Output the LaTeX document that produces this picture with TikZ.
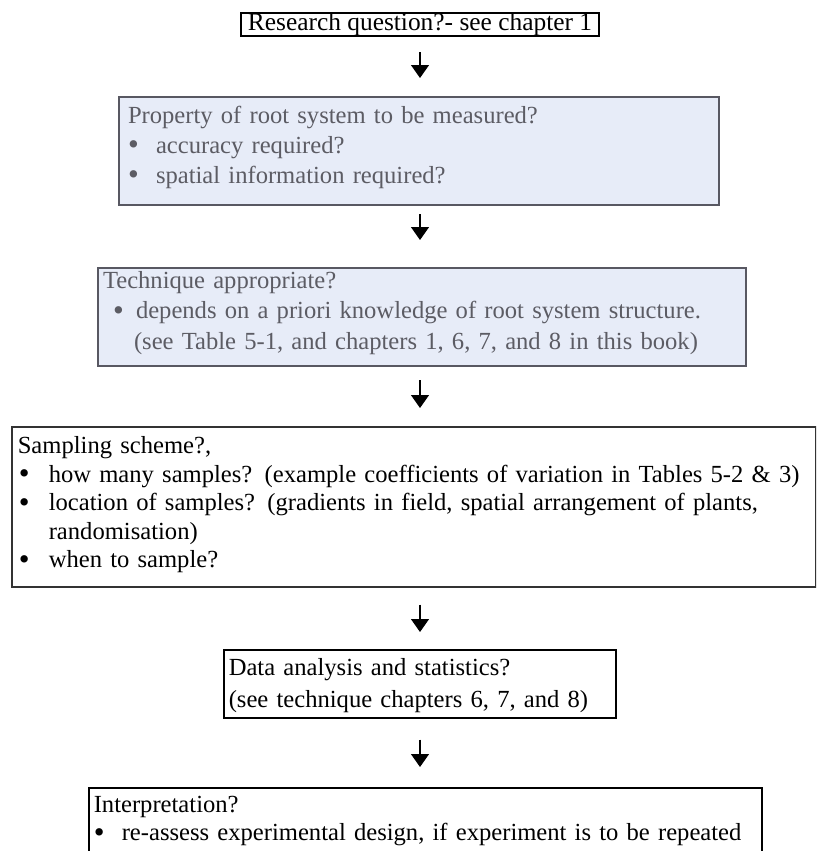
\documentclass[tikz,border=0pt]{standalone}
\usepackage{fontspec}
\setmainfont{Liberation Serif}
\usetikzlibrary{arrows.meta}

\definecolor{stageblue}{RGB}{231,236,248}
\definecolor{stageline}{RGB}{88,88,98}
\definecolor{stagetext}{RGB}{92,92,100}

\newcommand{\topstrut}[1]{\rule{0pt}{#1}}
\newcommand{\botstrut}[1]{\rule[-#1]{0pt}{#1}}
\newcommand{\flowitem}[3]{\makebox[#2][l]{\hspace*{#1}\raisebox{-0.8pt}{\scalebox{1.25}{\textbullet}}}#3}

\tikzset{
  stagebox/.style={rectangle, draw, anchor=north west, align=left,
    inner xsep=3pt, inner ysep=0pt, line width=0.8pt},
  bluebox/.style={stagebox, fill=stageblue, draw=stageline,
    text=stagetext, line width=1pt},
  flowarrow/.style={-{Triangle[width=9pt,length=6.5pt]}, line width=0.6pt}
}

\begin{document}
\begin{tikzpicture}[x=0.5pt,y=-0.5pt]

  \useasboundingbox (0,0) rectangle (816,851);
  \clip (0,0) rectangle (816,851);

  %% boxes, top to bottom
  \node (Research) [stagebox, anchor=north, minimum width=179pt, line width=1pt,
    font=\fontsize{12.7}{15}\selectfont] at (420,12)
    {\topstrut{8.7pt}Research question?- see chapter 1\botstrut{2.8pt}};

  \node (Property) [bluebox, inner xsep=4.5pt, text width=291pt,
    font=\fontsize{12.3}{15}\selectfont] at (118,96)
    {\topstrut{13pt}Property of root system to be measured?\\
     \flowitem{0pt}{14pt}{accuracy required?}\\
     \flowitem{0pt}{14pt}{spatial information required?}\botstrut{11pt}};

  \node (Technique) [bluebox, inner xsep=2.5pt, text width=319pt,
    font=\fontsize{12.3}{15.3}\selectfont] at (97,267)
    {\topstrut{10pt}Technique appropriate?\\
     \flowitem{5pt}{16.5pt}{depends on a priori knowledge of root system structure.}\\
     \hspace*{15.5pt}(see Table 5-1, and chapters 1, 6, 7, and 8 in this book)\botstrut{8.5pt}};

  \node (Sampling) [stagebox, draw=black!80, text width=396pt,
    font=\fontsize{12.3}{14.25}\selectfont] at (11,426)
    {\topstrut{13.5pt}Sampling scheme?,\\
     \flowitem{0.5pt}{15.5pt}{how many samples?\hspace{0.5em}(example coefficients of variation in Tables 5-2 \& 3)}\\
     \flowitem{0.5pt}{15.5pt}{location of samples?\hspace{0.5em}(gradients in field, spatial arrangement of plants,}\\
     \hspace*{15.5pt}randomisation)\\
     \flowitem{0.5pt}{15.5pt}{when to sample?}\botstrut{9.5pt}};

  \node (Analysis) [stagebox, inner xsep=2.5pt, text width=191pt,
    font=\fontsize{12.3}{16}\selectfont] at (223,649)
    {\topstrut{13pt}Data analysis and statistics?\\
     (see technique chapters 6, 7, and 8)\botstrut{5pt}};

  \node (Interpretation) [stagebox, inner xsep=2.5pt, text width=331.5pt,
    font=\fontsize{12.3}{14}\selectfont] at (88,787)
    {\topstrut{12.5pt}Interpretation?\\
     \flowitem{0pt}{14pt}{re-assess experimental design, if experiment is to be repeated}\botstrut{30pt}};

  %% arrows down the middle
  \draw [flowarrow, shorten <=7.5pt, shorten >=9pt]
    (Research.south) -- (Research.south |- Property.north);
  \draw [flowarrow, shorten <=4pt, shorten >=13.5pt]
    (Research.south |- Property.south) -- (Research.south |- Technique.north);
  \draw [flowarrow, shorten <=6.5pt, shorten >=9pt]
    (Research.south |- Technique.south) -- (Research.south |- Sampling.north);
  \draw [flowarrow, shorten <=8.5pt, shorten >=8.5pt]
    (Research.south |- Sampling.south) -- (Research.south |- Analysis.north);
  \draw [flowarrow, shorten <=10.5pt, shorten >=10pt]
    (Research.south |- Analysis.south) -- (Research.south |- Interpretation.north);

\end{tikzpicture}
\end{document}
